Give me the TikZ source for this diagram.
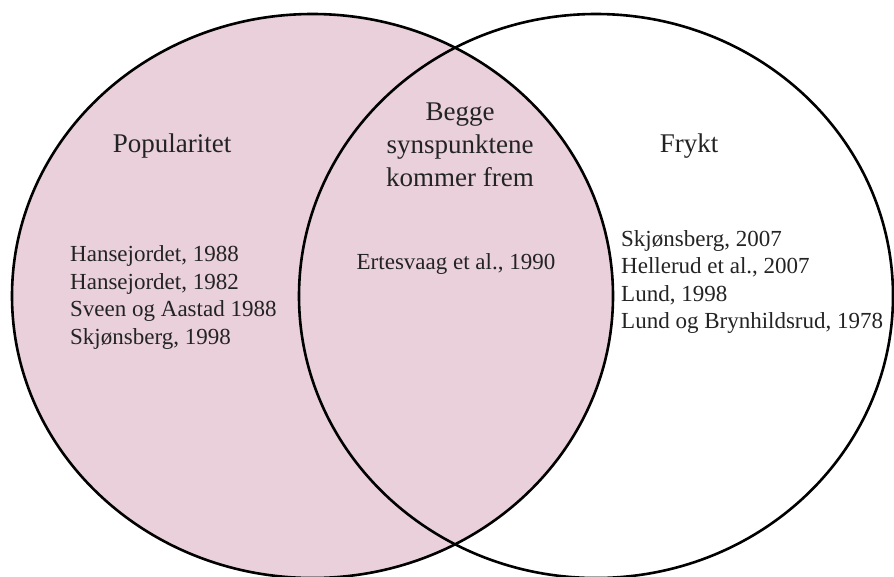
\documentclass[tikz,border=0pt]{standalone}
\usepackage{fontspec}
\setmainfont{Liberation Serif}
\definecolor{setpink}{RGB}{233,208,219}
\definecolor{inkgray}{RGB}{35,35,35}
\begin{document}
\begin{tikzpicture}[x=1pt,y=-1pt,
  setline/.style={line width=2.6pt,black},
  heading/.style={inner sep=0pt,text=inkgray,align=center,font=\fontsize{27}{33}\selectfont},
  entries/.style={inner sep=0pt,text=inkgray,align=left,font=\fontsize{23}{27.5}\selectfont}]
  \useasboundingbox (0,0) rectangle (894,576);
  \clip (0,0) rectangle (894,576);
  % the two sets; the left one is shaded
  \fill[setpink] (312.5,296) ellipse [x radius=300.5, y radius=282];
  \draw[setline] (312.5,296) ellipse [x radius=300.5, y radius=282];
  \draw[setline] (596,296) ellipse [x radius=297, y radius=282];
  % headings
  \node[heading] (popularitet) at (172,146) {Popularitet};
  \node[heading] (begge) at (460,145) {Begge\\synspunktene\\kommer frem};
  \node[heading] (frykt) at (689,146) {Frykt};
  % sources in each part
  \node[entries,anchor=west] (venstre) at (70,297.5) {Hansejordet, 1988\\Hansejordet, 1982\\Sveen og Aastad 1988\\Skjønsberg, 1998};
  \node[entries] (midten) at (456,264) {Ertesvaag et al., 1990};
  \node[entries,anchor=west] (hoyre) at (621,282) {Skjønsberg, 2007\\Hellerud et al., 2007\\Lund, 1998\\Lund og Brynhildsrud, 1978};
\end{tikzpicture}
\end{document}
